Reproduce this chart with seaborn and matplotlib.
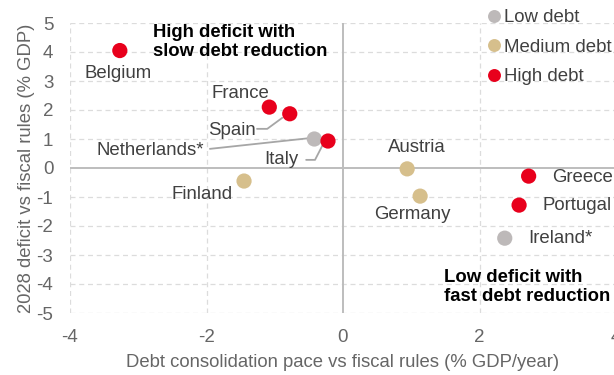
import matplotlib
matplotlib.use("Agg")
import matplotlib.pyplot as plt
import seaborn as sns
import pandas as pd

countries = ["Belgium", "France", "Spain", "Netherlands*", "Italy", "Finland",
             "Austria", "Germany", "Greece", "Portugal", "Ireland*"]
consolidation = [-3.27, -1.08, -0.78, -0.42, -0.22, -1.45, 0.94, 1.13, 2.72, 2.58, 2.37]
deficit = [4.05, 2.1, 1.87, 1.0, 0.93, -0.45, -0.03, -0.97, -0.28, -1.28, -2.42]
debt_group = ["High debt", "High debt", "High debt", "Low debt", "High debt", "Medium debt",
              "Medium debt", "Medium debt", "High debt", "High debt", "Low debt"]
groups = ["Low debt", "Medium debt", "High debt"]
palette = {"Low debt": "#bdb9b9", "Medium debt": "#d6bf8c", "High debt": "#e8001c"}

df = pd.DataFrame({"country": countries, "x": consolidation, "y": deficit, "group": debt_group})

sns.set_theme(style="white")
plt.rcParams["font.family"] = ["Liberation Sans", "DejaVu Sans"]
plt.rcParams["axes.unicode_minus"] = False

fig = plt.figure(figsize=(6.14, 3.75), dpi=100)
ax = fig.add_axes([70/614, 1-313/375, (616-70)/614, (313-23)/375])

ax.set_xlim(-4, 4)
ax.set_ylim(-5, 5)
for yv in range(-5, 6):
    if yv != 0:
        ax.axhline(yv, color="#dcdcdc", lw=0.9, ls=(0, (4, 3)), zorder=0)
for xv in [-4, -2, 2, 4]:
    ax.axvline(xv, color="#dcdcdc", lw=0.9, ls=(0, (4, 3)), zorder=0)
ax.axhline(0, color="#bdbdbd", lw=1.4, zorder=1)
ax.axvline(0, color="#bdbdbd", lw=1.4, zorder=1)

sns.scatterplot(data=df, x="x", y="y", hue="group", hue_order=groups, palette=palette,
                s=120, edgecolor="none", ax=ax, zorder=3, legend=True)

for s in ax.spines.values():
    s.set_visible(False)
ax.set_xticks([-4, -2, 0, 2, 4])
ax.set_yticks(range(-5, 6))
ax.tick_params(axis="both", length=0, labelsize=13.5, labelcolor="#666666")
ax.tick_params(axis="x", pad=11.5)
ax.tick_params(axis="y", pad=12)
ax.set_xlabel("Debt consolidation pace vs fiscal rules (% GDP/year)", fontsize=13.3,
              color="#666666", labelpad=6)
ax.set_ylabel("2028 deficit vs fiscal rules (% GDP)", fontsize=13.3, color="#666666", labelpad=1)

tc = "#404040"
fs = 13.4
ax.text(-3.29, 3.25, "Belgium", ha="center", va="center", fontsize=fs, color=tc)
ax.text(-1.51, 2.56, "France", ha="center", va="center", fontsize=fs, color=tc)
ax.text(-1.63, 1.31, "Spain", ha="center", va="center", fontsize=fs, color=tc)
ax.text(-2.83, 0.62, "Netherlands*", ha="center", va="center", fontsize=fs, color=tc)
ax.text(-0.91, 0.28, "Italy", ha="center", va="center", fontsize=fs, color=tc)
ax.text(-2.06, -0.93, "Finland", ha="center", va="center", fontsize=fs, color=tc)
ax.text(1.08, 0.69, "Austria", ha="center", va="center", fontsize=fs, color=tc)
ax.text(1.01, -1.6, "Germany", ha="center", va="center", fontsize=fs, color=tc)
ax.text(3.07, -0.34, "Greece", ha="left", va="center", fontsize=fs, color=tc)
ax.text(2.93, -1.31, "Portugal", ha="left", va="center", fontsize=fs, color=tc)
ax.text(2.72, -2.42, "Ireland*", ha="left", va="center", fontsize=fs, color=tc)

lc = "#a6a6a6"
ax.plot([-1.26, -1.11, -0.89], [1.35, 1.35, 1.73], color=lc, lw=1.3, zorder=2)
ax.plot([-1.95, -0.45], [0.66, 1.04], color=lc, lw=1.3, zorder=2)
ax.plot([-0.54, -0.41, -0.29], [0.28, 0.28, 0.83], color=lc, lw=1.3, zorder=2)

ax.text(-2.78, 4.36, "High deficit with\nslow debt reduction", ha="left", va="center",
        fontsize=13.3, fontweight="bold", color="black", linespacing=1.15)
ax.text(1.48, -4.1, "Low deficit with\nfast debt reduction", ha="left", va="center",
        fontsize=13.3, fontweight="bold", color="black", linespacing=1.15)

handles, labels = ax.get_legend_handles_labels()
ax.legend(handles, labels, loc="upper left", bbox_to_anchor=(488/614, 1-9/375),
          bbox_transform=fig.transFigure, frameon=False, fontsize=13.4,
          handlelength=0.6, handletextpad=0.25, borderpad=0, labelspacing=0.68,
          borderaxespad=0, markerscale=0.85, labelcolor="#404040")

fig.savefig("out.png", dpi=100)
